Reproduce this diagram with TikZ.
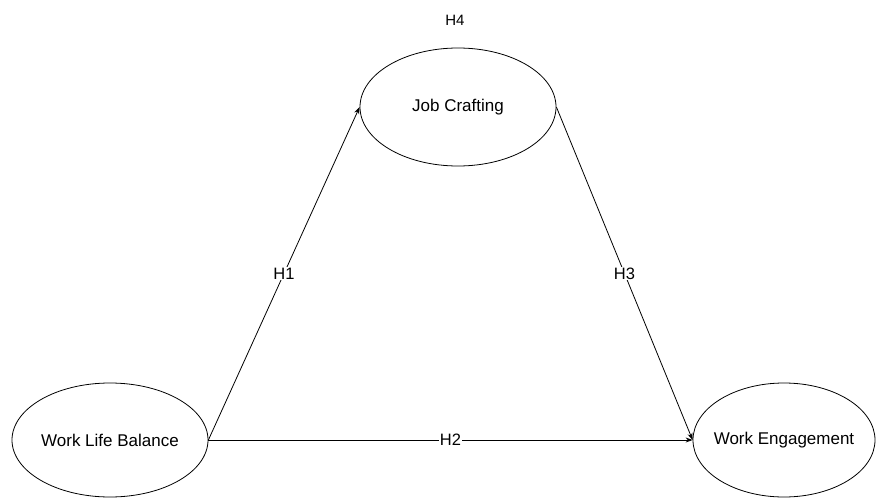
\documentclass[tikz,border=0pt]{standalone}
\usepackage{fontspec}
\setmainfont{Liberation Sans}
\usetikzlibrary{shapes.geometric,arrows.meta}
\begin{document}
\begin{tikzpicture}[x=1pt,y=-1pt,
  latent/.style={draw, ellipse, line width=0.8pt, inner ysep=0pt, inner xsep=-30pt, minimum width=#1, font=\fontsize{17}{20}\selectfont},
  latent/.default=196pt,
  path/.style={draw, line width=0.8pt, -{Stealth[length=7pt,width=5pt]}},
  hlabel/.style={fill=white, inner sep=1pt, font=\fontsize{16.5}{19}\selectfont}]
\useasboundingbox (0,0) rectangle (876,500);
\node[latent, minimum height=118pt] (jc) at (458,107) {Job Crafting};
\node[latent, minimum height=114pt] (wlb) at (110,440) {Work Life Balance};
\node[latent=182pt, minimum height=114pt] (we) at (784,440) {Work Engagement};
\node[font=\fontsize{15}{18}\selectfont] (h4) at (455,20) {H4};
\draw[path] (wlb.east) -- node[hlabel, pos=0.5] (h1) {H1} (jc.west);
\draw[path] (jc.east) -- node[hlabel, pos=0.5] (h3) {H3} (we.west);
\draw[path] (wlb.east) -- node[hlabel, pos=0.5] (h2) {H2} (we.west);
\end{tikzpicture}
\end{document}
